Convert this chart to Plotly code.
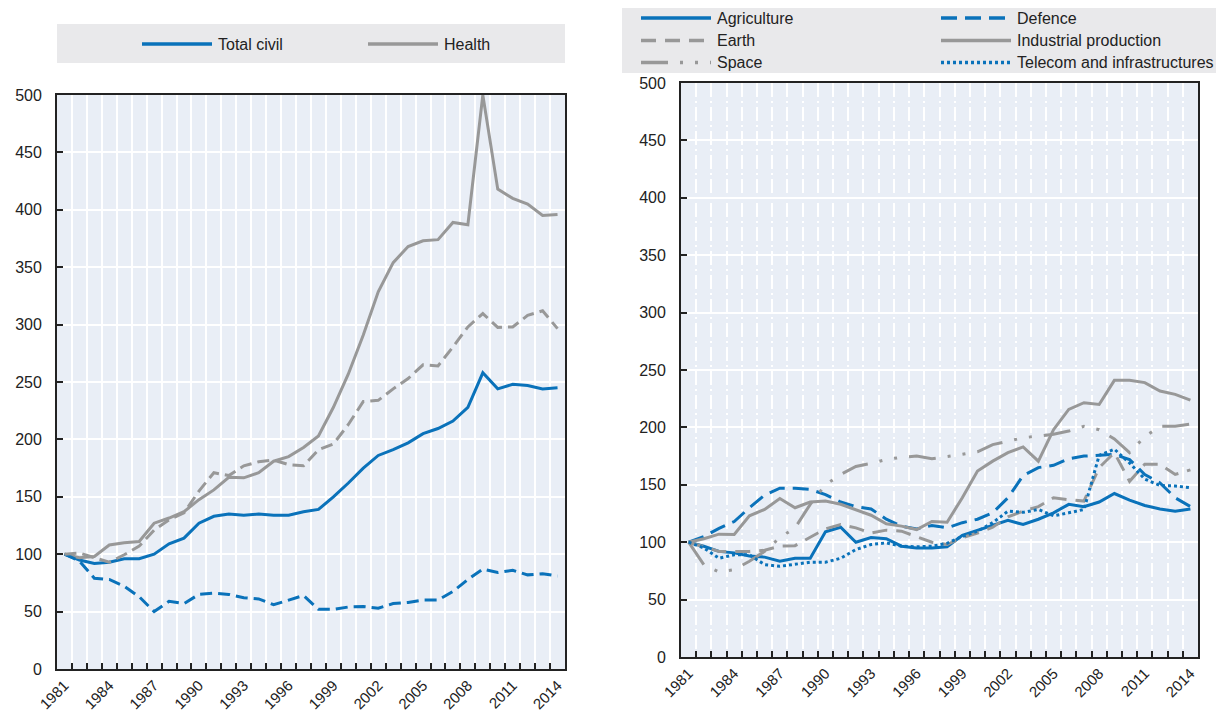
import plotly.graph_objects as go

# ---- data: index 1981 = 100 ----
years = list(range(1981, 2015))

# left panel
total_civil = [100, 95, 92, 93, 96, 96, 100, 109, 114, 127, 133, 135, 134, 135, 134, 134,
               137, 139, 150, 162, 175, 186, 191, 197, 205, 209.5, 216, 228, 258, 244,
               248, 247, 244, 245]
health = [100, 97, 98, 108, 110, 111, 127, 131.5, 137, 147.5, 156, 167, 166.5, 171, 181, 185,
          193, 203, 228, 257, 291, 328.5, 354, 368, 373, 374, 389, 387, 500, 418,
          410, 405, 395, 396]
defence_l = [100, 94, 79, 78, 72, 63, 50, 59, 57, 65, 66, 65, 62, 61, 56, 60,
             64, 52, 52, 54, 54.4, 53, 57, 58, 60, 60, 67.5, 78, 87, 84,
             86, 82, 83, 81]
earth_l = [100, 101, 97, 93, 99.5, 107, 121, 130, 136, 155, 171, 168.5, 177, 180.5, 182, 178,
           177, 191, 196, 213, 233, 234, 244, 253, 265, 264, 280.5, 298, 309.6, 297.6,
           298, 308, 312, 296.5]

# right panel
agriculture = [100, 96.5, 92, 90.7, 88, 87, 83.4, 86, 86, 109, 113, 100, 104, 103, 96.5, 95,
               95, 96, 106, 110.5, 114.5, 119, 115.4, 120, 125.6, 133, 131, 135, 142.4, 136.6,
               132, 129, 127, 129]
defence = [100, 105, 112, 118, 130, 141, 147, 147, 146, 141.5, 135, 131, 129, 120, 114, 111.6,
           114.5, 112.5, 117, 120, 125.6, 138.7, 158, 165, 167, 172.7, 175, 175.6, 176.5, 172,
           159, 151.7, 138.7, 131]
earth = [100, 96, 92, 92, 92, 93, 96.5, 97, 104, 111.6, 115.4, 112.5, 108, 110.5, 109.6, 105,
         100, 98, 104, 108, 113, 122, 127, 131, 138.7, 137, 135.8, 165, 178, 153,
         168, 168, 159, 163]
industrial = [100, 103, 107, 106.7, 123, 128.5, 138, 130, 135, 135.8, 133, 128.5, 123.5, 116, 114, 111,
              118, 117.4, 138.7, 162, 170.6, 178, 183, 170.6, 198, 215.7, 221.5, 220, 241, 241,
              239, 231.7, 228.8, 223.8]
space = [100, 80.5, 74, 76, 83.4, 92, 104, 112.5, 133, 150, 159, 166, 168.6, 172, 174, 175,
         172.7, 174.4, 176.5, 178.8, 185, 188, 191, 192.4, 194, 196.8, 201, 198, 190, 178,
         192, 201, 201, 203]
telecom = [100, 95, 86, 89, 89, 80.5, 79, 80.5, 82.6, 82.6, 86, 93.6, 98, 99.4, 96.5, 96,
           96.5, 99, 105, 109.6, 117, 127, 126, 128.5, 123, 125.6, 128.5, 175.6, 181, 169,
           155, 149.4, 149, 147.4]

year_ticks = list(range(1981, 2015, 3))
y_ticks = list(range(0, 501, 50))

# ---- styling ----
BLUE = "#0a72ba"
GREY = "#989898"
PLOT_BG = "#e9eef6"
LEG_BG = "#e9e9eb"
AXIS = "#222222"
FONT = "Liberation Sans, Arial, sans-serif"
FS = 16
FS_X = 15

W, H = 1216, 711


def px_x(p):
    return p / W


def px_y(p):
    return 1 - p / H


left_series = [
    ("Total civil", total_civil, BLUE, "solid"),
    ("Health", health, GREY, "solid"),
    ("Defence", defence_l, BLUE, "12px,6px"),
    ("Earth", earth_l, GREY, "12px,6px"),
]
right_series = [
    ("Agriculture", agriculture, BLUE, "solid"),
    ("Defence", defence, BLUE, "16px,8px"),
    ("Earth", earth, GREY, "15px,9px"),
    ("Industrial production", industrial, GREY, "solid"),
    ("Space", space, GREY, "27px,12px,3px,12px,3px,12px"),
    ("Telecom and infrastructures", telecom, BLUE, "3px,3px"),
]

fig = go.Figure()
for name, vals, col, dash in left_series:
    fig.add_trace(go.Scatter(x=years, y=vals, name=name, mode="lines",
                             line=dict(color=col, width=3, dash=dash),
                             xaxis="x", yaxis="y", showlegend=False))
for name, vals, col, dash in right_series:
    fig.add_trace(go.Scatter(x=years, y=vals, name=name, mode="lines",
                             line=dict(color=col, width=3, dash=dash),
                             xaxis="x2", yaxis="y2", showlegend=False))

boundaries = [y + 0.5 for y in years[:-1]]


def xaxis_cfg(domain, griddash, gridwidth):
    return dict(
        domain=domain, range=[1980.5, 2014.5], tickmode="array", tickvals=year_ticks,
        ticktext=[str(v) for v in year_ticks], ticks="", showgrid=False, automargin=False,
        tickangle=-45, tickfont=dict(family=FONT, size=FS_X, color="#222"),
        ticklabelstandoff=0,
        showline=True, linecolor=AXIS, linewidth=1.8, mirror=True, zeroline=False,
        minor=dict(tickmode="array", tickvals=boundaries, ticks="inside", ticklen=6,
                   tickcolor=AXIS, tickwidth=1.5, showgrid=True, gridcolor="white",
                   gridwidth=gridwidth, griddash=griddash),
    )


def yaxis_cfg(domain, anchor):
    return dict(
        domain=domain, anchor=anchor, range=[0, 500], tickmode="array", tickvals=y_ticks,
        ticks="inside", ticklen=6, tickcolor=AXIS, tickwidth=1.5, automargin=False,
        ticklabelstandoff=10,
        tickfont=dict(family=FONT, size=FS, color="#222"),
        showgrid=True, gridcolor="white", gridwidth=2,
        showline=True, linecolor=AXIS, linewidth=1.8, mirror=True, zeroline=False,
    )


# panel geometry in pixels
L = dict(x0=57, x1=565, y0=95, y1=669)
R = dict(x0=681, x1=1198, y0=83, y1=657)

layout = dict(
    width=W, height=H, margin=dict(l=0, r=0, t=0, b=0, autoexpand=False),
    paper_bgcolor="white", plot_bgcolor=PLOT_BG, showlegend=False,
    font=dict(family=FONT, size=FS, color="#222"),
    xaxis=dict(anchor="y", **xaxis_cfg([px_x(L["x0"]), px_x(L["x1"])], "solid", 2)),
    yaxis=yaxis_cfg([px_y(L["y1"]), px_y(L["y0"])], "x"),
    xaxis2=dict(anchor="y2", **xaxis_cfg([px_x(R["x0"]), px_x(R["x1"])], "14px,4px,2px,4px", 1.5)),
    yaxis2=yaxis_cfg([px_y(R["y1"]), px_y(R["y0"])], "x2"),
)
fig.update_layout(**layout)

# legend panels: grey boxes, sample lines and labels
shapes = [
    dict(type="rect", xref="paper", yref="paper", x0=px_x(57), x1=px_x(565),
         y0=px_y(63), y1=px_y(24), fillcolor=LEG_BG, line=dict(width=0), layer="below"),
    dict(type="rect", xref="paper", yref="paper", x0=px_x(622), x1=px_x(1216),
         y0=px_y(73), y1=px_y(8), fillcolor=LEG_BG, line=dict(width=0), layer="below"),
]
annotations = []


def legend_entry(x_line, y, name, col, dash):
    shapes.append(dict(type="line", xref="paper", yref="paper",
                       x0=px_x(x_line), x1=px_x(x_line + 70), y0=px_y(y), y1=px_y(y),
                       line=dict(color=col, width=3.5, dash=dash)))
    annotations.append(dict(xref="paper", yref="paper", x=px_x(x_line + 74), y=px_y(y),
                            text=name, showarrow=False, xanchor="left", yanchor="middle",
                            font=dict(family=FONT, size=FS, color="#222")))


legend_entry(142, 44, "Total civil", BLUE, "solid")
legend_entry(368, 44, "Health", GREY, "solid")

right_rows = [18, 40.5, 62.5]
for i, (name, vals, col, dash) in enumerate(right_series):
    row, colno = divmod(i, 2)
    x_line = 641 if colno == 0 else 941
    legend_entry(x_line, right_rows[row], name, col, dash)

fig.update_layout(shapes=shapes, annotations=annotations)

fig.write_html("out.html")
